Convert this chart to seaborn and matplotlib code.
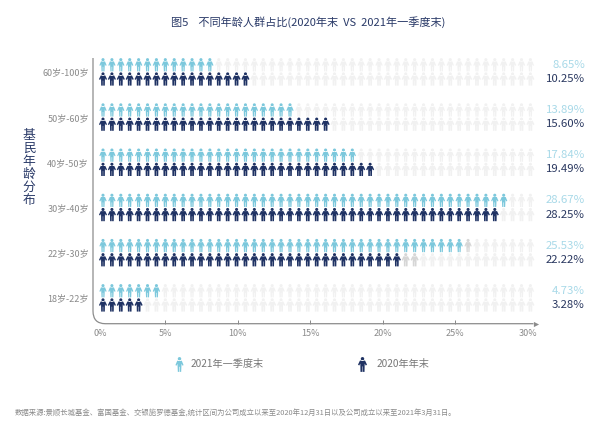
import numpy as np
import pandas as pd
import matplotlib
matplotlib.use("Agg")
import matplotlib.pyplot as plt
import seaborn as sns
from matplotlib.path import Path
from matplotlib.patches import PathPatch

ages = ["18岁-22岁", "22岁-30岁", "30岁-40岁", "40岁-50岁", "50岁-60岁", "60岁-100岁"]
pct_2021 = [4.73, 25.53, 28.67, 17.84, 13.89, 8.65]
pct_2020 = [3.28, 22.22, 28.25, 19.49, 15.60, 10.25]
# icons coloured in each row, counted off the picture
icons_2021 = [7, 41, 46, 29, 22, 13]
icons_2020 = [5, 34, 45, 31, 26, 17]
half_2021 = [0, 1, 0, 0, 0, 0]
half_2020 = [0, 2, 0, 0, 0, 0]
total_icons = 49
xticks = [0, 5, 10, 15, 20, 25, 30]

BLUE = "#7cc8dc"
NAVY = "#1f3263"
sns.set_theme(style="white")
plt.rcParams["font.family"] = ["Noto Sans CJK SC", "DejaVu Sans"]

W, H = 604, 430


def person(body):
    return Path.make_compound_path(Path.circle((0, 0.76), 0.23), Path(body + [body[0]], closed=True))


slim = person([(-.3, .5), (.3, .5), (.54, -.08), (.4, -.16), (.27, .1), (.22, -.98), (.04, -.98), (.04, -.3),
               (-.04, -.3), (-.04, -.98), (-.22, -.98), (-.27, .1), (-.4, -.16), (-.54, -.08)])
broad = person([(-.34, .52), (.34, .52), (.6, -.02), (.44, -.14), (.29, .12), (.27, -.98), (.03, -.98), (.03, -.25),
                (-.03, -.25), (-.03, -.98), (-.27, -.98), (-.29, .12), (-.44, -.14), (-.6, -.02)])

rows = []
for r in range(len(ages)):
    for name, offs, full, half in [("2021", 0.16, icons_2021, half_2021), ("2020", -0.155, icons_2020, half_2020)]:
        for i in range(total_icons):
            if i < full[r]:
                state = name
            elif i < full[r] + half[r]:
                state = "half"
            else:
                state = "empty"
            rows.append({"x": 0.69 + 0.6145 * i, "y": r + offs, "state": state, "series": name})
df = pd.DataFrame(rows)

fig = plt.figure(figsize=(W / 100, H / 100), dpi=100)
ax = fig.add_axes([93 / W, 1 - 323.7 / H, 446 / W, 265.7 / H])
sns.scatterplot(data=df, x="x", y="y", hue="state", style="series", ax=ax, legend=False, linewidth=0, s=92,
                palette={"2021": BLUE, "2020": NAVY, "half": "#d6d6d6", "empty": "#f1f1f1"},
                markers={"2021": slim, "2020": broad})
ax.set_xlim(0, 446 / 14.49)
ax.set_ylim(-0.569, 5.31)
sns.despine(ax=ax, left=True, bottom=True)
ax.set_xlabel("")
ax.set_ylabel("")

ax.set_yticks(range(len(ages)))
ax.set_yticklabels(ages, fontsize=6.5, color="#8a8a8a")
ax.set_xticks(xticks)
ax.set_xticklabels([f"{t}%" for t in xticks], fontsize=6.5, color="#8a8a8a")
ax.tick_params(axis="y", length=0, pad=3)
ax.tick_params(axis="x", direction="in", length=3, width=0.7, color="#888888", pad=3.5, bottom=True)
ax.xaxis.get_major_ticks()[0].tick1line.set_visible(False)
ax.xaxis.get_major_ticks()[-1].tick1line.set_visible(False)
ax.get_xticklabels()[0].set_ha("left")

# axis line with the rounded corner, and the arrow head
rx, ry = 0.85, 0.28
ax.add_patch(PathPatch(Path([(0, 5.31), (0, -0.569 + ry), (0, -0.569), (rx, -0.569), (30.4, -0.569)],
                            [Path.MOVETO, Path.LINETO, Path.CURVE3, Path.CURVE3, Path.LINETO]),
                       fill=False, edgecolor="#8c8c8c", lw=0.9, clip_on=False))
ax.scatter([30.6], [-0.569], marker=">", s=14, color="#8c8c8c", clip_on=False, linewidth=0)

for r in range(len(ages)):
    ax.text(33.95, r + 0.16, f"{pct_2021[r]:.2f}%", color="#a8d9e8", fontsize=8.2, ha="right", va="center")
    ax.text(33.95, r - 0.155, f"{pct_2020[r]:.2f}%", color="#2a3860", fontsize=8.2, ha="right", va="center")

fig.text(308.5 / W, 1 - 22 / H, "图5    不同年龄人群占比(2020年末  VS  2021年一季度末)", color="#2a3a68", fontsize=8.05,
         ha="center", va="center")
fig.text(29 / W, 1 - 168 / H, "\n".join("基民年龄分布"), color="#2a3a68", fontsize=9.2, ha="center", va="center",
         linespacing=1.0)

# legend
ax.scatter([179 / W], [1 - 364 / H], marker=slim, s=115, color=BLUE, linewidth=0, transform=fig.transFigure, clip_on=False)
ax.scatter([362 / W], [1 - 364 / H], marker=broad, s=115, color=NAVY, linewidth=0, transform=fig.transFigure, clip_on=False)
fig.text(191 / W, 1 - 364 / H, "2021年一季度末", color="#777777", fontsize=7.3, va="center")
fig.text(377 / W, 1 - 364 / H, "2020年年末", color="#777777", fontsize=7.3, va="center")

fig.text(15 / W, 1 - 414 / H, "数据来源:景顺长城基金、富国基金、交银施罗德基金,统计区间为公司成立以来至2020年12月31日以及公司成立以来至2021年3月31日。",
         color="#8a8a8a", fontsize=5.3, va="center")

fig.savefig("out.png", dpi=100)
